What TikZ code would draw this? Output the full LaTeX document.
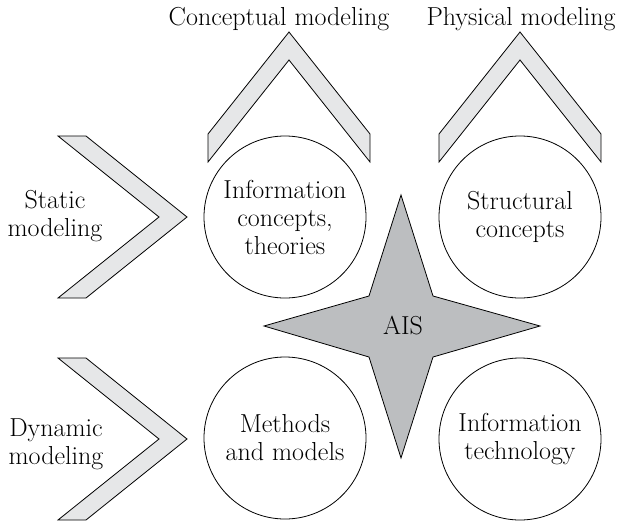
\documentclass[tikz,border=0pt]{standalone}
\usepackage{fontspec}
\definecolor{chevfill}{HTML}{E6E7E8}
\definecolor{starfill}{HTML}{BCBEC0}
\begin{document}
\begin{tikzpicture}[x=1pt,y=-1pt,
  bubble/.style={circle,draw,line width=0.8pt,minimum size=162pt,inner sep=0pt,align=center,font=\rmfamily\fontsize{26}{28}\selectfont},
  txt/.style={align=center,inner sep=0pt,font=\rmfamily\fontsize{26}{28}\selectfont},
  chevron/.style={draw,fill=chevfill,line width=0.8pt,line join=miter},
  starshape/.style={draw,fill=starfill,line width=0.8pt,line join=miter},
]
\useasboundingbox (0,0) rectangle (618,522);
% upward chevrons
\foreach \cx in {289,520}
  \draw[chevron] (\cx,32) -- (\cx+81,134) -- (\cx+81,162) -- (\cx,60) -- (\cx-81,162) -- (\cx-81,134) -- cycle;
% rightward chevrons
\foreach \cy in {217,439}
  \draw[chevron] (58,\cy-81) -- (86,\cy-81) -- (187,\cy) -- (86,\cy+81) -- (58,\cy+81) -- (159,\cy) -- cycle;
% star
\draw[starshape] (401,195) -- (433,296) -- (540,326) -- (433,357) -- (401,458) -- (369,357) -- (264,326) -- (369,296) -- cycle;
\node[txt] (ais) at (403,326) {AIS};
% circles
\node[bubble] (info) at (285,217) {Information\\concepts,\\theories};
\node[bubble] (struct) at (520,217) {Structural\\concepts};
\node[bubble] (methods) at (285,438) {Methods\\and models};
\node[bubble] (itech) at (520,439) {Information\\technology};
% labels
\node[txt,anchor=base] (concl) at (279,25) {Conceptual modeling};
\node[txt,anchor=base] (physl) at (521,25) {Physical modeling};
\node[txt] (statl) at (55,216) {Static\\modeling};
\node[txt] (dynl) at (56,444) {Dynamic\\modeling};
\end{tikzpicture}
\end{document}
